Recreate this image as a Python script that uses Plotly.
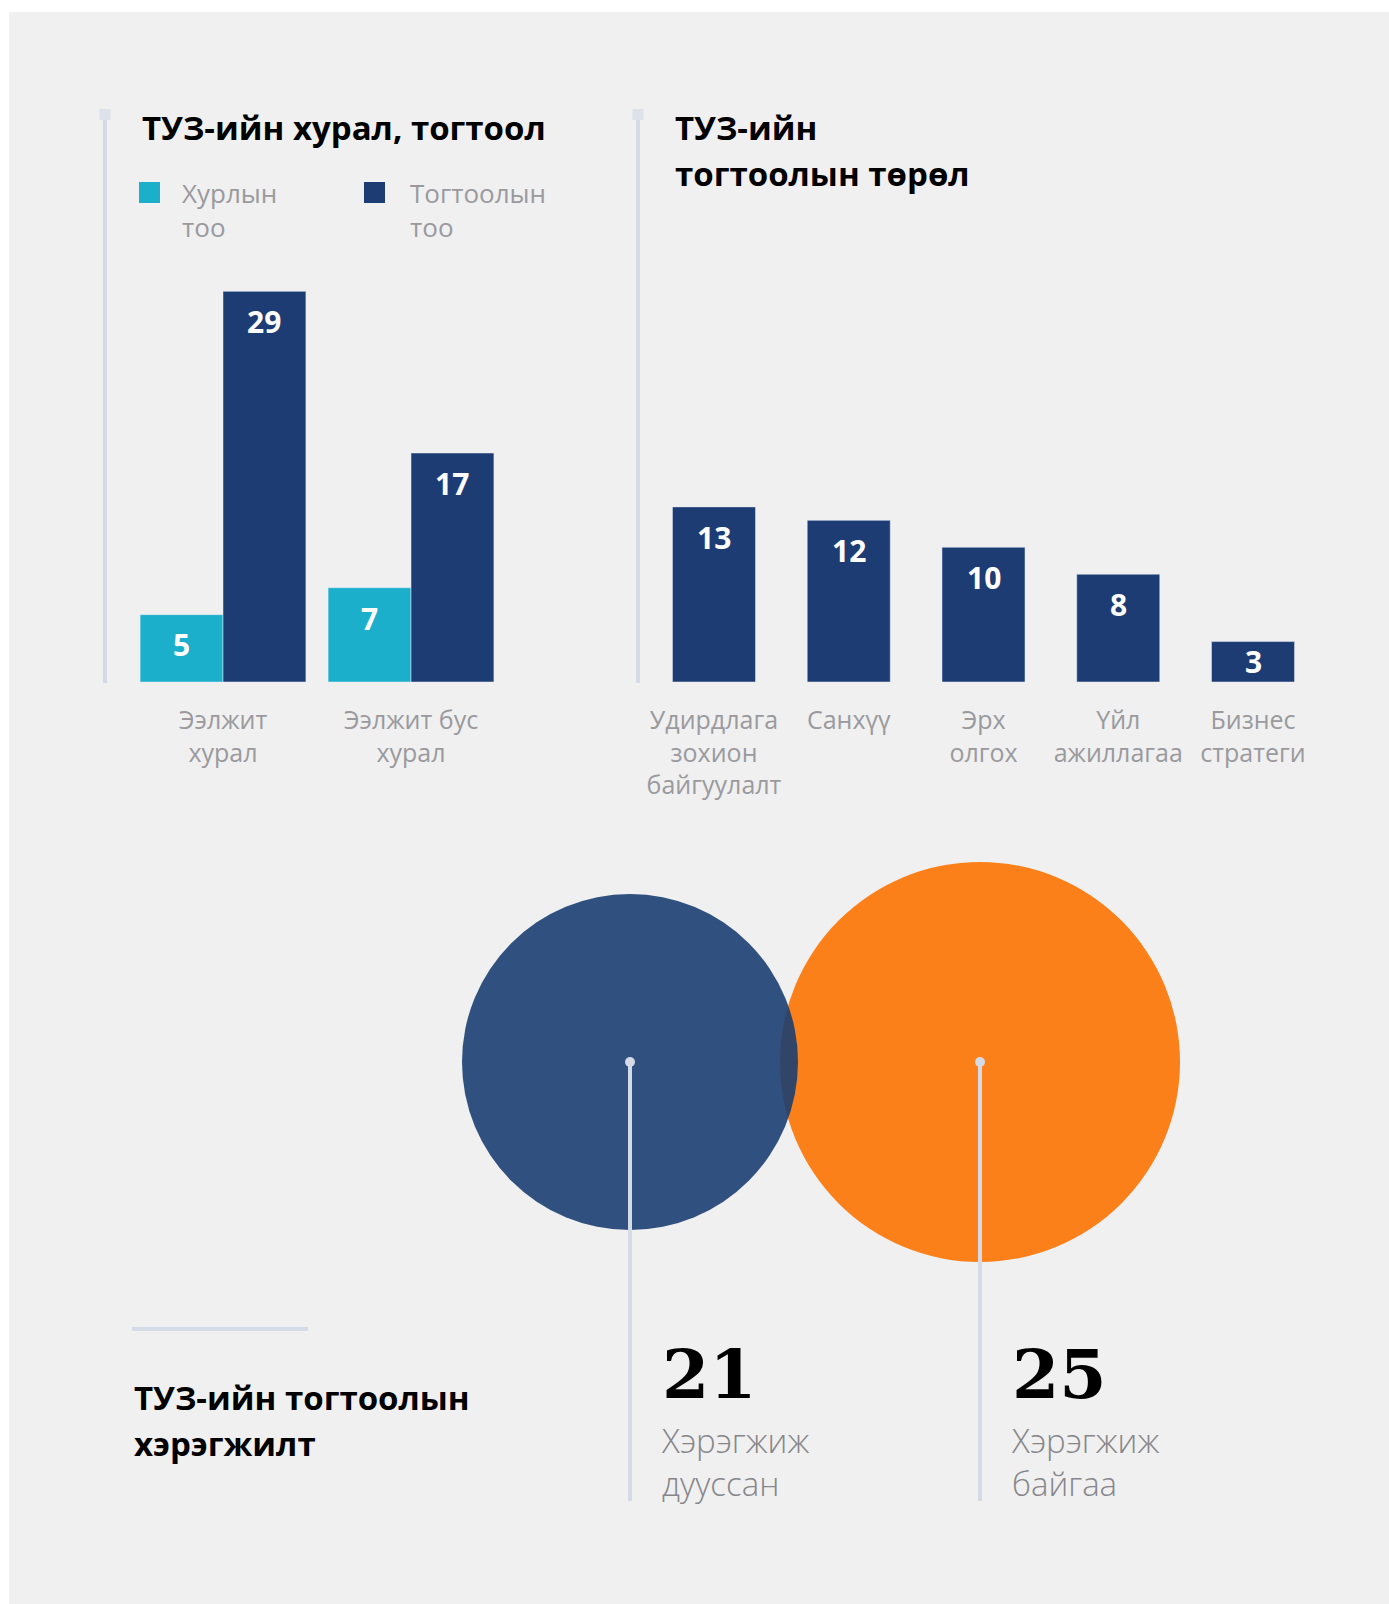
import plotly.graph_objects as go

W, H = 1389, 1604

# ---- data ----
meeting_cats = ["Ээлжит<br>хурал", "Ээлжит бус<br>хурал"]
meeting_counts = [5, 7]
resolution_counts = [29, 17]
legend_names = ["Хурлын<br>тоо", "Тогтоолын<br>тоо"]

type_cats = ["Удирдлага<br>зохион<br>байгуулалт", "Санхүү", "Эрх<br>олгох",
             "Үйл<br>ажиллагаа", "Бизнес<br>стратеги"]
type_counts = [13, 12, 10, 8, 3]

status_labels = ["Хэрэгжиж<br>дууссан", "Хэрэгжиж<br>байгаа"]
status_counts = [21, 25]

# ---- styles ----
CYAN = "#1cafcc"
NAVY = "#1e3c74"
CIRCLE_NAVY = "#1b3e72"
ORANGE = "#fc801a"
LINE = "#d4dbe6"
BG = "#f0f0f0"
GRAY = "#9a9a9e"
DGRAY = "#86868a"
SANS = "Open Sans"


def px(x):
    return x / W


def py(y):
    return 1 - y / H


fig = go.Figure()

# left chart: meetings / resolutions
fig.add_bar(x=list(range(len(meeting_cats))), y=meeting_counts, name=legend_names[0],
            marker_color=CYAN, width=0.441, offset=-0.441, xaxis="x", yaxis="y")
fig.add_bar(x=list(range(len(meeting_cats))), y=resolution_counts, name=legend_names[1],
            marker_color=NAVY, width=0.441, offset=0, xaxis="x", yaxis="y")

# right chart: resolution types
fig.add_bar(x=list(range(len(type_cats))), y=type_counts, marker_color=NAVY,
            width=0.616, xaxis="x2", yaxis="y2")

# bubbles (orange underneath, navy on top)
bubble_colors = [CIRCLE_NAVY, ORANGE]
bubble_opacity = [0.9, 1.0]
for i in [1, 0]:
    fig.add_scatter(x=[i], y=[0.5], mode="markers", xaxis="x3", yaxis="y3", cliponaxis=False,
                    marker=dict(size=[status_counts[i]], sizemode="diameter",
                                sizeref=1 / 16.0, color=bubble_colors[i],
                                opacity=bubble_opacity[i], line_width=0))

ann = []


def label_y(v):
    return max(v - 2.25, v / 2)


val_font = dict(family=SANS, size=30, color="white", weight="bold")
for i, v in enumerate(meeting_counts):
    ann.append(dict(x=i - 0.22, y=label_y(v), xref="x", yref="y", text=str(v),
                    showarrow=False, font=val_font))
for i, v in enumerate(resolution_counts):
    ann.append(dict(x=i + 0.22, y=label_y(v), xref="x", yref="y", text=str(v),
                    showarrow=False, font=val_font))
for i, v in enumerate(type_counts):
    ann.append(dict(x=i, y=label_y(v), xref="x2", yref="y2", text=str(v),
                    showarrow=False, font=val_font))

# titles
title_font = dict(family=SANS, size=33, color="black", weight="bold")
for text, x, y in [("ТУЗ-ийн хурал, тогтоол", 140, 127),
                   ("ТУЗ-ийн", 673, 127), ("тогтоолын төрөл", 673, 174),
                   ("ТУЗ-ийн тогтоолын", 132, 1397), ("хэрэгжилт", 132, 1443)]:
    ann.append(dict(x=px(x), y=py(y), xref="paper", yref="paper", xanchor="left",
                    yanchor="middle", text=text, showarrow=False, font=title_font))

# legend (manual)
shapes = []
for name, color, x0, tx in [(legend_names[0], CYAN, 139, 180), (legend_names[1], NAVY, 364, 408)]:
    shapes.append(dict(type="rect", xref="paper", yref="paper", x0=px(x0), x1=px(x0 + 21),
                       y0=py(203), y1=py(182), fillcolor=color, line_width=0))
    ann.append(dict(x=px(tx), y=py(173), xref="paper", yref="paper", xanchor="left",
                    yanchor="top", align="left", text=name, showarrow=False,
                    font=dict(family=SANS, size=26, color=GRAY)))

# numbers and captions under bubbles
for i, v in enumerate(status_counts):
    ann.append(dict(x=i, y=py(1374), xref="x3", yref="paper", xanchor="left", xshift=30,
                    yanchor="middle", text=str(v), showarrow=False,
                    font=dict(family="DejaVu Serif", size=68, color="black", weight="bold")))
    ann.append(dict(x=i, y=py(1416), xref="x3", yref="paper", xanchor="left", xshift=29,
                    yanchor="top", align="left", text=status_labels[i], showarrow=False,
                    font=dict(family=SANS, size=33, color=DGRAY, weight=300)))
    shapes.append(dict(type="line", xref="x3", yref="paper", x0=i, x1=i,
                       y0=py(1062), y1=py(1501), line=dict(color=LINE, width=4)))
    shapes.append(dict(type="circle", xref="x3", yref="paper", xsizemode="pixel",
                       ysizemode="pixel", xanchor=i, yanchor=py(1062),
                       x0=-5, x1=5, y0=-5, y1=5, fillcolor=LINE, line_width=0))

# panel background and decorative rules
shapes.insert(0, dict(type="rect", xref="paper", yref="paper", x0=px(9), x1=1, y0=0, y1=py(12),
                      fillcolor=BG, line_width=0, layer="below"))
for lx in [105, 638]:
    shapes.append(dict(type="line", xref="paper", yref="paper", x0=px(lx), x1=px(lx),
                       y0=py(112), y1=py(683), line=dict(color=LINE, width=4)))
    shapes.append(dict(type="rect", xref="paper", yref="paper", x0=px(lx - 5.5), x1=px(lx + 5.5),
                       y0=py(120), y1=py(109), fillcolor="#dce1ea", line_width=0))
shapes.append(dict(type="line", xref="paper", yref="paper", x0=px(132), x1=px(308),
                   y0=py(1329), y1=py(1329), line=dict(color=LINE, width=4)))

ydom = [py(682), py(282)]
yrng = [0, 400 / 13.47]
tickfont = dict(family=SANS, size=25, color=GRAY)

fig.update_layout(
    width=W, height=H,
    margin=dict(l=0, r=0, t=0, b=0),
    paper_bgcolor="white",
    plot_bgcolor="rgba(0,0,0,0)",
    barmode="overlay",
    showlegend=False,
    xaxis=dict(domain=[px(129), px(505)], range=[-0.5, 1.5], tickvals=[0, 1],
               ticktext=meeting_cats, showgrid=False, zeroline=False, showline=False,
               tickfont=tickfont, ticklabelstandoff=21),
    yaxis=dict(domain=ydom, range=yrng, visible=False),
    xaxis2=dict(domain=[px(646.6), px(1320.4)], range=[-0.5, 4.5],
                tickvals=list(range(len(type_cats))), ticktext=type_cats, showgrid=False,
                zeroline=False, showline=False, tickfont=tickfont, ticklabelstandoff=21,
                anchor="y2"),
    yaxis2=dict(domain=ydom, range=yrng, visible=False, anchor="x2"),
    xaxis3=dict(domain=[px(455), px(1155)], range=[-0.5, 1.5], visible=False, anchor="y3"),
    yaxis3=dict(domain=[py(1262), py(862)], range=[0, 1], visible=False, anchor="x3"),
    annotations=ann,
    shapes=shapes,
)

fig.write_html("out.html", config={"displayModeBar": False},
               post_script="document.body.style.margin='0';")
